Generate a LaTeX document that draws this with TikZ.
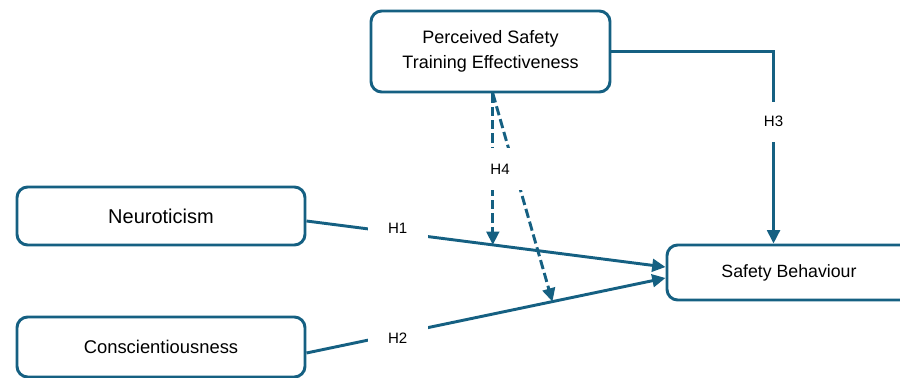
\documentclass[tikz,border=0pt]{standalone}
\usepackage{fontspec}
\setmainfont{Liberation Sans}
\usetikzlibrary{arrows.meta,calc}
\definecolor{linec}{HTML}{156082}
\tikzset{
  box/.style={draw=linec, line width=2.2pt, rounded corners=8pt, fill=white,
    inner sep=0pt, align=center, text=black,
    font=\fontsize{13.5}{18.75}\selectfont},
  conn/.style={draw=linec, line width=2.2pt, -{Triangle[length=10pt,width=9.5pt]}},
  dconn/.style={conn, dash pattern=on 7pt off 3pt},
  lab/.style={fill=white, inner sep=0pt, text=black,
    font=\fontsize{11.3}{13}\selectfont}
}
\begin{document}
\begin{tikzpicture}[x=0.75pt,y=-0.75pt]
\useasboundingbox (0,0) rectangle (900,378);
\clip (0,0) rectangle (900,378);
% boxes
\node[box, minimum width=179.25pt, minimum height=60.75pt] (P) at (490.5,51.5)
  {Perceived Safety\\Training Effectiveness};
\node[box, minimum width=216pt, minimum height=43.5pt,
  font=\fontsize{15}{18}\selectfont] (N) at (161,216) {Neuroticism};
\node[box, minimum width=216pt, minimum height=45pt,
  font=\fontsize{13.8}{18}\selectfont] (C) at (161,347) {Conscientiousness};
\node[box, minimum width=183pt, minimum height=41.25pt,
  font=\fontsize{13.3}{18}\selectfont] (SB) at (789,272.5) {Safety Behaviour};
% H1
\draw[conn] ([yshift=-3.75pt]N.east) --
  coordinate[pos=0.519] (m1)
  node[lab, pos=0.254, yshift=3.5pt, inner xsep=15.4pt, inner ysep=6pt] (h1) {H1}
  ([yshift=4.1pt]SB.west);
% H2
\draw[conn] ([yshift=-4.5pt]C.east) --
  coordinate[pos=0.685] (m2)
  node[lab, pos=0.254, yshift=-3pt, inner xsep=15.4pt, inner ysep=6pt] (h2) {H2}
  ([yshift=-4.1pt]SB.west);
% H3
\draw[conn] (P.east) -|
  node[lab, pos=0.683, inner xsep=4pt, inner ysep=11pt] (h3) {H3}
  ($(SB.north west)+(108,0)$);
% H4
\draw[dconn] (P.south -| m1) -- (m1);
\draw[dconn] (P.south -| m1) -- (m2);
\node[lab, inner xsep=10.9pt, inner ysep=11.7pt] (h4) at (500,169) {H4};
\end{tikzpicture}
\end{document}
